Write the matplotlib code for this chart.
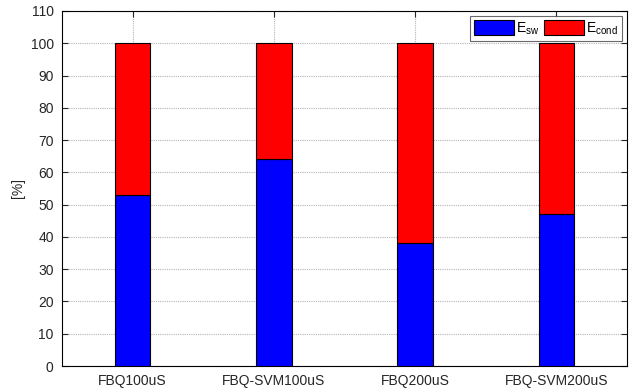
import matplotlib
matplotlib.use("Agg")
import matplotlib.pyplot as plt
import numpy as np

categories = ["FBQ100uS", "FBQ-SVM100uS", "FBQ200uS", "FBQ-SVM200uS"]
e_sw = [53, 64, 38, 47]
e_cond = [47, 36, 62, 53]

plt.rcParams['font.family'] = ['Liberation Sans', 'DejaVu Sans']
plt.rcParams['mathtext.default'] = 'regular'

fig = plt.figure(figsize=(6.31, 3.88), dpi=100)
ax = fig.add_axes([62 / 631, 22 / 388, 565 / 631, 355 / 388])

x = np.arange(1, len(categories) + 1)
w = 0.25
ax.bar(x, e_sw, w, color='#0000ff', edgecolor='black', linewidth=0.8,
       label='E$_{sw}$', zorder=3)
ax.bar(x, e_cond, w, bottom=e_sw, color='#ff0000', edgecolor='black',
       linewidth=0.8, label='E$_{cond}$', zorder=3)

ax.set_xlim(0.5, 4.5)
ax.set_ylim(0, 110)
ax.set_xticks(x)
ax.set_xticklabels(categories)
ax.set_yticks(np.arange(0, 111, 10))
ax.tick_params(direction='in', top=True, right=True, labelsize=10,
               colors='#262626', length=4, pad=6)
ax.set_ylabel('[%]', fontsize=10, labelpad=4, color='#262626')

ax.grid(True, linestyle=(0, (1, 1)), color='#b5b5b5', linewidth=0.8, zorder=0)
for s in ax.spines.values():
    s.set_linewidth(0.8)

leg = ax.legend(loc='upper right', ncol=2, fontsize=10, frameon=True,
                fancybox=False, edgecolor='#444444', handlelength=2.9,
                handleheight=1.3, columnspacing=0.3, handletextpad=0.15,
                borderaxespad=0.35, borderpad=0.3)
leg.get_frame().set_linewidth(0.8)

fig.savefig('out.png', dpi=100)
